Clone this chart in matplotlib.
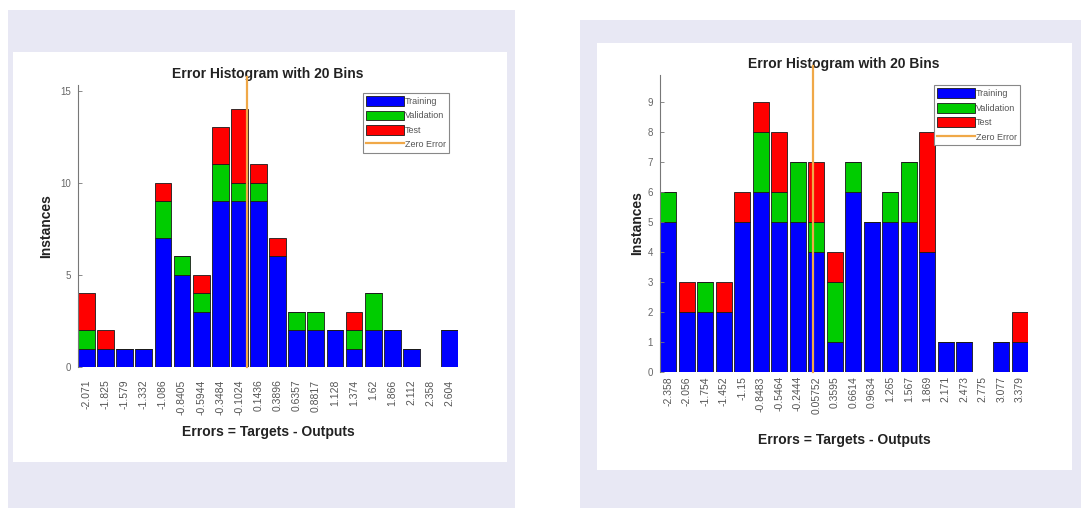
import numpy as np
import matplotlib.pyplot as plt
from matplotlib.patches import Rectangle
from matplotlib.lines import Line2D
import matplotlib.transforms as mtransforms

plt.rcParams['font.family'] = ['Liberation Sans', 'DejaVu Sans']

# left network: bin centres and stacked counts
labels_a = ['-2.071', '-1.825', '-1.579', '-1.332', '-1.086', '-0.8405', '-0.5944',
            '-0.3484', '-0.1024', '0.1436', '0.3896', '0.6357', '0.8817', '1.128',
            '1.374', '1.62', '1.866', '2.112', '2.358', '2.604']
train_a = [1, 1, 1, 1, 7, 5, 3, 9, 9, 9, 6, 2, 2, 2, 1, 2, 2, 1, 0, 2]
valid_a = [1, 0, 0, 0, 2, 1, 1, 2, 1, 1, 0, 1, 1, 0, 1, 2, 0, 0, 0, 0]
test_a = [2, 1, 0, 0, 1, 0, 1, 2, 4, 1, 1, 0, 0, 0, 1, 0, 0, 0, 0, 0]
yticks_a = [0, 5, 10, 15]

# right network
labels_b = ['-2.358', '-2.056', '-1.754', '-1.452', '-1.15', '-0.8483', '-0.5464',
            '-0.2444', '0.05752', '0.3595', '0.6614', '0.9634', '1.265', '1.567',
            '1.869', '2.171', '2.473', '2.775', '3.077', '3.379']
train_b = [5, 2, 2, 2, 5, 6, 5, 5, 4, 1, 6, 5, 5, 5, 4, 1, 1, 0, 1, 1]
valid_b = [1, 0, 1, 0, 0, 2, 1, 2, 1, 2, 1, 0, 1, 2, 0, 0, 0, 0, 0, 0]
test_b = [0, 1, 0, 1, 1, 1, 2, 0, 2, 1, 0, 0, 0, 0, 4, 0, 0, 0, 0, 1]
yticks_b = list(range(10))

W, H = 1081, 508
fig = plt.figure(figsize=(W / 100, H / 100), dpi=100)
fig.patch.set_facecolor('white')

LAV = '#e8e8f4'
ORANGE = '#f0a848'


def box(x0, y0, x1, y1, color):
    # rectangle given in pixel coords measured from the top-left corner
    fig.patches.append(Rectangle((x0 / W, 1 - y1 / H), (x1 - x0) / W, (y1 - y0) / H,
                                 transform=fig.transFigure, facecolor=color,
                                 edgecolor='none', zorder=-10))


box(8, 10, 515, 508, LAV)
box(580, 20, 1081, 508, LAV)
box(13, 52, 507, 462, 'white')
box(597, 43, 1072, 470, 'white')


def px_axes(x0, y0, x1, y1):
    return fig.add_axes([x0 / W, 1 - y1 / H, (x1 - x0) / W, (y1 - y0) / H])


def err_hist(ax, labels, train, valid, test, yticks, ytop, leg_anchor, xpad, xlabelpad):
    centers = np.array([float(s) for s in labels])
    bw = (centers[-1] - centers[0]) / (len(centers) - 1)
    w = 0.88 * bw
    train = np.array(train)
    valid = np.array(valid)
    test = np.array(test)
    kw = dict(width=w, edgecolor='#1a1a1a', linewidth=0.6)
    ax.bar(centers, train, color='#0000ff', label='Training', **kw)
    ax.bar(centers, valid, bottom=train, color='#00cc00', label='Validation', **kw)
    ax.bar(centers, test, bottom=train + valid, color='#ff0000', label='Test', **kw)
    trans = mtransforms.blended_transform_factory(ax.transData, ax.transAxes)
    ax.plot([0, 0], [0, 1.03], color=ORANGE, lw=1.6, transform=trans,
            clip_on=False, zorder=5)
    ax.set_xlim(centers[0] - w / 2, centers[-1] + w / 2)
    ax.set_ylim(0, ytop)
    ax.set_xticks(centers)
    ax.set_xticklabels(labels, rotation=90, fontsize=7.5, color='#555555')
    ax.set_yticks(yticks)
    ax.set_yticklabels([str(t) for t in yticks], fontsize=7, color='#666666')
    ax.tick_params(axis='x', length=0, pad=xpad)
    ax.tick_params(axis='y', direction='in', length=3, width=0.6, color='#777777', pad=5)
    for s in ['top', 'right', 'bottom']:
        ax.spines[s].set_visible(False)
    ax.spines['left'].set_color('#777777')
    ax.spines['left'].set_linewidth(0.8)
    ax.set_facecolor('white')
    ax.set_title('Error Histogram with 20 Bins', fontsize=10, fontweight='bold',
                 color='#222222', pad=5)
    ax.set_xlabel('Errors = Targets - Outputs', fontsize=10, fontweight='bold',
                  color='#222222', labelpad=xlabelpad)
    ax.set_ylabel('Instances', fontsize=10, fontweight='bold', color='#222222')
    handles, names = ax.get_legend_handles_labels()
    handles.append(Line2D([], [], color=ORANGE, lw=1.6))
    names.append('Zero Error')
    leg = ax.legend(handles, names, loc='upper right', bbox_to_anchor=leg_anchor,
                    fontsize=6.5, handlelength=4.2, handleheight=1.3, labelspacing=0.5,
                    borderpad=0.35, handletextpad=0.1, borderaxespad=0,
                    fancybox=False, framealpha=1, edgecolor='#888888')
    for t in leg.get_texts():
        t.set_color('#555555')
    leg.get_frame().set_linewidth(0.8)


ax1 = px_axes(78, 85, 458, 367)
err_hist(ax1, labels_a, train_a, valid_a, test_a, yticks_a, 15.3, (0.976, 0.972),
         xpad=9, xlabelpad=7)
ax1.yaxis.set_label_coords(-0.066, 0.5)

ax2 = px_axes(660, 75, 1028, 372)
err_hist(ax2, labels_b, train_b, valid_b, test_b, yticks_b, 9.9, (0.978, 0.966),
         xpad=3, xlabelpad=14)
ax2.yaxis.set_label_coords(-0.043, 0.5)

fig.savefig('out.png', dpi=100)
